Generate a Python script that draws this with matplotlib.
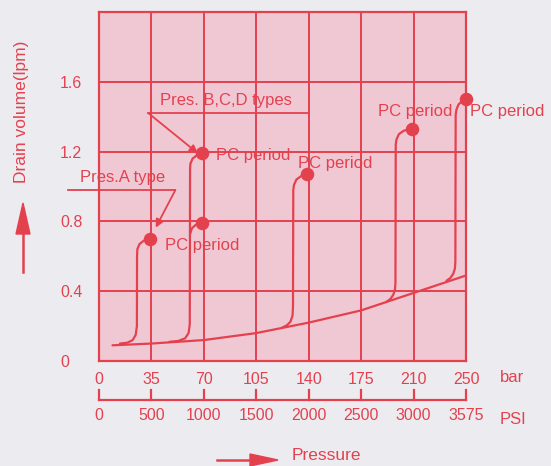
import numpy as np
import matplotlib.pyplot as plt
from matplotlib.transforms import blended_transform_factory

plt.rcParams['font.family'] = ['Liberation Sans', 'DejaVu Sans']

RED = '#e4414f'
PINK = '#efc8d3'
BG = '#ececf0'

# pressure scale (bar) and matching psi labels
bar_ticks = [0, 35, 70, 105, 140, 175, 210, 245]
bar_labels = ['0', '35', '70', '105', '140', '175', '210', '250']
psi_labels = ['0', '500', '1000', '1500', '2000', '2500', '3000', '3575']
vol_ticks = [0, 0.4, 0.8, 1.2, 1.6]
vol_labels = ['0', '0.4', '0.8', '1.2', '1.6']

# base drain curve
base_x = [9, 35, 70, 105, 140, 175, 210, 245]
base_y = [0.09, 0.10, 0.12, 0.16, 0.22, 0.29, 0.39, 0.49]

# compensator curves (leave base curve, rise, end at PC point)
curve_a_x = [14, 19, 22.5, 24.5, 25.3, 25.4, 25.6, 27, 30, 34]
curve_a_y = [0.10, 0.105, 0.12, 0.15, 0.20, 0.60, 0.64, 0.67, 0.69, 0.70]
curve_b_x = [47, 53, 57.5, 59.8, 60.6, 60.8, 61, 62.5, 65.5, 69]
curve_b_y = [0.11, 0.115, 0.13, 0.16, 0.21, 1.10, 1.13, 1.16, 1.18, 1.19]
branch_b_x = [60.9, 62, 64.5, 68.5]
branch_b_y = [0.73, 0.76, 0.78, 0.79]
curve_c_x = [122, 125.5, 127.8, 129.2, 129.5, 129.7, 130.2, 131.8, 135, 139]
curve_c_y = [0.19, 0.205, 0.225, 0.26, 0.31, 0.98, 1.01, 1.04, 1.06, 1.07]
curve_d_x = [192, 194.5, 196.5, 197.6, 197.9, 198.1, 198.6, 200.2, 203.5, 209]
curve_d_y = [0.34, 0.355, 0.38, 0.41, 0.45, 1.24, 1.27, 1.30, 1.32, 1.33]
curve_e_x = [232, 234.5, 236.5, 237.6, 237.9, 238.1, 238.6, 240, 242.5, 245]
curve_e_y = [0.46, 0.475, 0.50, 0.53, 0.57, 1.41, 1.44, 1.47, 1.49, 1.50]

pc_x = [34, 69, 68.5, 139, 209, 245]
pc_y = [0.70, 1.19, 0.79, 1.07, 1.33, 1.50]

W, H = 551, 466
fig = plt.figure(figsize=(W / 100, H / 100), dpi=100, facecolor=BG)
ax = fig.add_axes([99 / W, 1 - 361 / H, (466 - 99) / W, (361 - 12) / H])
ax.set_facecolor(PINK)
ax.set_xlim(0, 245)
ax.set_ylim(0, 2.0)

def fy(py):
    return 1 - py / H

def fx(px):
    return px / W

# grid
for x in bar_ticks[1:-1]:
    ax.axvline(x, color=RED, lw=1.4, zorder=1)
for y in vol_ticks[1:]:
    ax.axhline(y, color=RED, lw=1.4, zorder=1)
for s in ax.spines.values():
    s.set_color(RED)
    s.set_linewidth(1.6)

# curves
kw = dict(color=RED, lw=1.6, solid_capstyle='round', solid_joinstyle='round', zorder=3)
ax.plot(base_x, base_y, **kw)
for cx, cy in [(curve_a_x, curve_a_y), (curve_b_x, curve_b_y), (branch_b_x, branch_b_y),
               (curve_c_x, curve_c_y), (curve_d_x, curve_d_y), (curve_e_x, curve_e_y)]:
    ax.plot(cx, cy, **kw)
ax.scatter(pc_x, pc_y, s=95, color=RED, zorder=4, clip_on=False, linewidths=0)

# PC period labels
tkw = dict(color=RED, fontsize=12, va='center', ha='left', zorder=5)
ax.text(44, 0.66, 'PC period', **tkw)
ax.text(78, 1.18, 'PC period', **tkw)
ax.text(133, 1.13, 'PC period', **tkw)
ax.text(186, 1.43, 'PC period', **tkw)
ax.text(248, 1.43, 'PC period', clip_on=False, **tkw)

# type callouts
ax.text(41, 1.49, 'Pres. B,C,D types', color=RED, fontsize=12, va='center', ha='left')
ax.plot([33, 140], [1.42, 1.42], color=RED, lw=1.3, zorder=3)
ax.annotate('', xy=(67.5, 1.18), xytext=(33, 1.42),
            arrowprops=dict(arrowstyle='-|>', color=RED, lw=1.3, mutation_scale=12,
                            shrinkA=0, shrinkB=2))
ax.text(-13, 1.05, 'Pres.A type', color=RED, fontsize=12, va='center', ha='left', clip_on=False)
ax.plot([-21, 51], [0.98, 0.98], color=RED, lw=1.3, zorder=3, clip_on=False)
ax.annotate('', xy=(37, 0.75), xytext=(51, 0.98),
            arrowprops=dict(arrowstyle='-|>', color=RED, lw=1.3, mutation_scale=12,
                            shrinkA=0, shrinkB=2))

# y ticks
ax.set_yticks(vol_ticks)
ax.set_yticklabels(vol_labels)
ax.tick_params(axis='y', length=0, pad=28, labelsize=11.5, labelcolor=RED)
for lab in ax.get_yticklabels():
    lab.set_ha('left')
ax.set_xticks([])

# bottom pressure scales
tr = blended_transform_factory(ax.transData, fig.transFigure)
for x, lb, lp in zip(bar_ticks, bar_labels, psi_labels):
    ax.text(x, fy(380), lb, transform=tr, color=RED, fontsize=11.5, ha='center', va='center')
    ax.text(x, fy(416), lp, transform=tr, color=RED, fontsize=11.5, ha='center', va='center')
    ax.plot([x, x], [fy(400), fy(390)], transform=tr, color=RED, lw=1.6, clip_on=False)
ax.plot([0, 245], [fy(400), fy(400)], transform=tr, color=RED, lw=1.6, clip_on=False)
fig.text(fx(500), fy(377), 'bar', color=RED, fontsize=12, ha='left', va='center')
fig.text(fx(500), fy(420), 'PSI', color=RED, fontsize=12, ha='left', va='center')

# axis titles with arrows
fig.text(fx(22), fy(112), 'Drain volume(lpm)', color=RED, fontsize=12.5, rotation=90,
         ha='center', va='center')
fig.add_artist(plt.Line2D([fx(23), fx(23)], [fy(272), fy(230)], color=RED, lw=1.8))
fig.patches.append(plt.Polygon([[fx(16), fy(234)], [fx(30), fy(234)], [fx(23), fy(203)]],
                               closed=True, color=RED, transform=fig.transFigure))
fig.text(fx(292), fy(456), 'Pressure', color=RED, fontsize=12.5, ha='left', va='center')
fig.add_artist(plt.Line2D([fx(217), fx(255)], [fy(460), fy(460)], color=RED, lw=1.8))
fig.patches.append(plt.Polygon([[fx(250), fy(454)], [fx(250), fy(466)], [fx(278), fy(460)]],
                               closed=True, color=RED, transform=fig.transFigure))

fig.savefig('out.png', dpi=100, facecolor=BG)
